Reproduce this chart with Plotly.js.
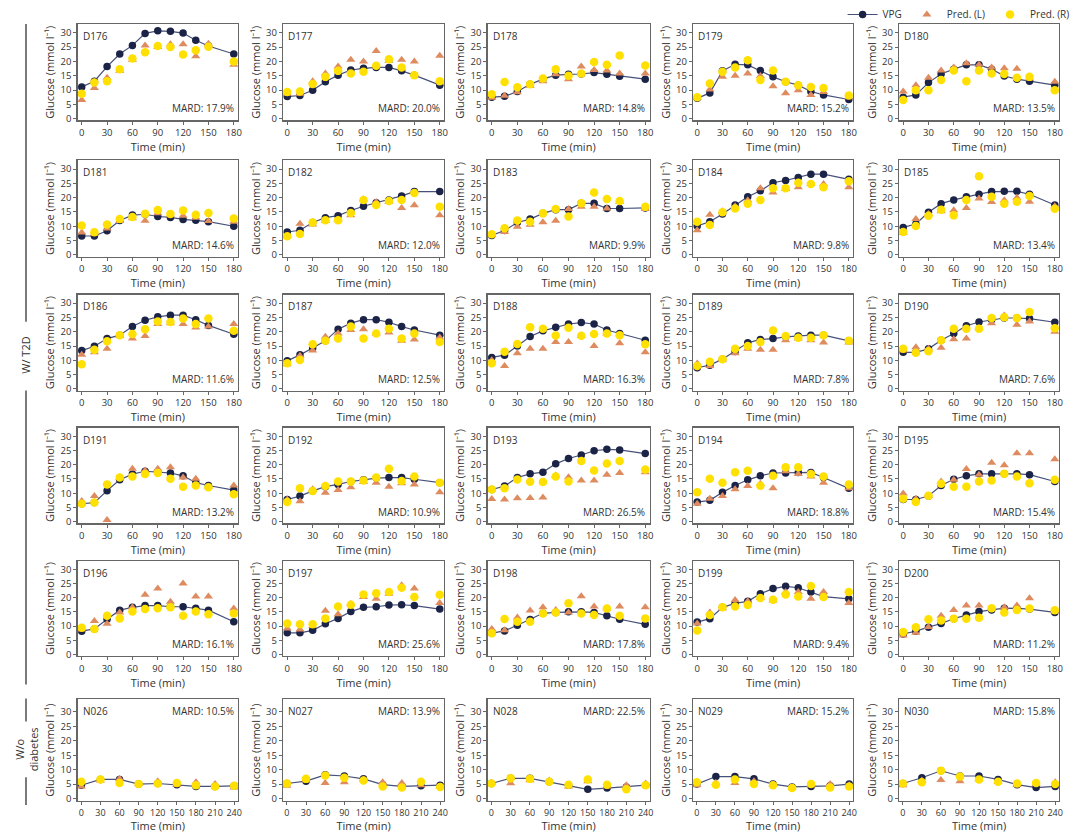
<!DOCTYPE html>
<html><head><meta charset="utf-8">
<script src="https://cdn.plot.ly/plotly-3.0.1.min.js"></script>
<style>html,body{margin:0;padding:0;background:#fff}#chart{width:1080px;height:833px}</style>
</head><body><div id="chart"></div>
<script>
// ---------- data ----------
const T2D_TIME = [0,15,30,45,60,75,90,105,120,135,150,180];
const NODM_TIME = [0,30,60,90,120,150,180,210,240];

const D176_VPG = [11.1,13.1,18.2,22.6,25.6,29.8,30.7,30.5,29.9,27.4,25.4,22.6];
const D176_L   = [6.5,10.7,14.3,16.7,20.6,25.6,25.0,26.0,26.0,21.8,26.2,18.8];
const D176_R   = [8.7,12.6,13.1,17.3,21.0,23.2,25.4,25.0,22.4,23.9,25.1,20.0];

const D177_VPG = [7.7,8.1,9.9,12.9,15.2,17.0,17.6,17.9,17.9,16.7,15.2,11.7];
const D177_L   = [8.7,8.7,13.1,15.8,18.2,20.6,20.0,23.6,20.2,20.6,20.0,22.0];
const D177_R   = [9.3,9.5,12.1,14.6,16.7,15.8,16.4,18.5,20.8,17.9,15.2,13.1];

const D178_VPG = [7.5,7.8,9.5,12.0,13.8,15.2,15.5,15.6,16.1,15.5,14.8,13.8];
const D178_L   = [7.3,8.0,9.2,11.5,13.1,15.5,13.8,18.2,17.0,16.8,15.8,15.8];
const D178_R   = [8.5,12.8,11.0,12.0,14.0,17.3,15.0,15.8,19.8,18.8,22.1,18.6];

const D179_VPG = [7.1,9.0,16.7,19.0,18.8,16.8,14.6,12.9,11.7,9.5,8.3,6.7];
const D179_L   = [7.3,10.2,14.6,15.0,15.8,14.9,11.3,8.9,9.9,8.3,9.3,7.5];
const D179_R   = [7.5,12.3,16.4,17.9,20.4,13.5,16.8,12.9,11.7,11.1,10.7,8.1];

const D180_VPG = [7.5,8.3,12.6,15.6,17.3,18.8,18.8,17.3,14.9,13.8,13.1,11.7];
const D180_L   = [9.5,11.7,14.3,16.8,17.9,19.4,18.8,17.9,17.6,17.4,14.0,12.9];
const D180_R   = [6.5,9.9,9.9,13.5,16.8,13.1,16.8,15.8,15.6,14.3,14.6,9.9];

const D181_VPG = [6.6,6.6,8.4,12.0,13.9,14.2,13.4,13.1,12.4,12.1,11.6,10.0];
const D181_L   = [7.8,7.4,9.2,11.8,12.8,11.9,14.5,13.8,13.7,13.0,11.8,11.6];
const D181_R   = [10.3,7.9,10.6,12.5,13.2,14.4,15.7,14.3,15.5,14.0,14.6,12.7];

const D182_VPG = [8.0,8.6,11.3,13.0,13.7,15.5,17.0,18.2,19.2,20.6,22.1,22.1];
const D182_L   = [6.5,10.9,10.6,11.9,12.4,13.8,19.4,18.5,18.6,16.4,17.3,13.8];
const D182_R   = [6.5,7.3,11.3,12.1,12.1,14.6,19.2,17.4,18.8,19.2,21.6,16.8];

const D183_VPG = [6.8,8.5,11.3,12.5,14.5,15.8,15.8,18.0,18.0,16.2,16.2,16.4];
const D183_L   = [7.0,8.0,9.8,10.5,11.4,11.9,16.0,16.8,16.8,16.2,18.6,16.0];
const D183_R   = [7.2,9.3,12.0,11.6,14.5,16.0,13.4,18.0,21.8,19.5,18.8,16.8];

const D184_VPG = [10.1,11.6,14.3,17.4,20.3,22.4,25.2,26.0,27.0,28.2,28.2,26.4];
const D184_L   = [8.6,14.0,15.2,17.0,19.1,23.3,21.8,23.0,23.6,24.8,24.8,23.6];
const D184_R   = [11.6,10.4,14.9,16.2,17.9,19.2,23.3,23.3,25.2,24.8,23.6,25.7];

const D185_VPG = [9.6,10.8,14.9,17.9,19.2,20.3,21.2,22.1,22.2,22.2,21.2,17.4];
const D185_L   = [7.7,12.5,14.3,15.2,15.6,16.4,19.7,18.5,19.1,20.0,18.6,17.0];
const D185_R   = [8.0,10.1,13.7,15.8,13.8,19.2,27.5,20.3,17.9,18.6,20.6,16.1];

const D186_VPG = [13.4,14.9,17.6,18.8,21.8,24.0,25.2,25.8,25.8,24.2,22.2,19.1];
const D186_L   = [11.9,12.8,14.0,18.5,17.6,18.5,22.7,23.0,22.7,21.5,21.8,22.7];
const D186_R   = [8.6,13.7,16.7,18.8,19.2,20.9,23.6,23.4,24.6,22.7,24.6,20.3];

const D187_VPG = [9.8,11.9,14.3,16.8,20.9,23.0,24.2,24.2,23.3,21.8,20.6,18.8];
const D187_L   = [8.6,11.6,13.4,18.2,19.4,20.6,20.9,19.4,19.7,16.8,17.3,18.0];
const D187_R   = [9.0,10.1,15.6,16.8,17.6,21.8,17.6,19.4,21.0,17.6,19.4,16.4];

const D188_VPG = [11.0,11.8,15.0,18.3,20.3,21.6,22.7,23.2,22.7,20.6,19.4,17.0];
const D188_L   = [10.0,8.0,12.5,14.0,14.0,16.4,16.4,18.6,15.0,19.4,16.0,12.8];
const D188_R   = [9.0,13.0,15.7,21.6,21.0,18.7,21.4,18.6,19.2,19.4,18.8,15.6];

const D189_VPG = [7.4,8.3,10.4,13.1,16.1,17.3,17.6,18.2,18.5,18.8,18.8,16.8];
const D189_L   = [8.9,8.0,10.2,12.5,14.0,13.7,13.7,17.0,17.6,17.0,16.2,16.2];
const D189_R   = [8.0,9.5,10.4,14.0,15.0,16.4,20.4,18.5,17.9,17.9,18.8,16.8];

const D190_VPG = [12.8,12.8,14.0,17.0,19.4,22.1,23.4,24.2,24.8,24.8,24.6,23.3];
const D190_L   = [13.4,14.6,14.0,14.4,17.4,17.6,21.2,23.0,25.7,22.4,23.6,20.0];
const D190_R   = [14.0,12.6,13.2,17.0,21.0,21.0,21.0,24.8,25.1,24.8,26.9,21.2];

const D191_VPG = [6.3,6.7,10.9,14.7,16.7,17.7,17.4,17.1,16.1,13.7,12.7,11.1];
const D191_L   = [7.3,9.0,0.6,15.3,18.6,18.0,18.6,19.1,15.5,15.1,12.3,12.7];
const D191_R   = [6.3,6.7,13.1,15.5,15.9,16.7,17.1,15.1,12.3,12.7,12.1,9.6];

const D192_VPG = [7.8,9.0,10.8,12.3,13.1,14.1,14.7,15.3,15.5,15.5,14.9,13.7];
const D192_L   = [7.8,7.2,11.4,10.2,11.1,12.1,13.9,13.7,12.3,13.5,13.1,10.3];
const D192_R   = [6.9,11.7,10.8,12.5,14.1,14.1,14.5,15.5,18.6,14.3,15.9,13.7];

const D193_VPG = [11.3,12.5,15.5,16.8,17.4,20.3,22.2,23.4,24.9,25.4,25.2,23.9];
const D193_L   = [8.0,7.8,8.2,8.3,8.5,16.2,15.6,14.5,14.5,16.5,17.1,17.4];
const D193_R   = [11.3,11.7,14.8,14.0,13.9,15.9,14.1,21.3,18.0,20.4,21.3,18.3];

const D194_VPG = [6.9,7.5,10.3,12.7,14.7,16.1,17.1,17.1,17.3,17.3,15.5,11.7];
const D194_L   = [6.3,8.1,9.0,11.4,12.5,13.3,11.7,17.7,16.7,15.9,13.7,11.7];
const D194_R   = [10.3,15.1,13.7,17.4,17.9,12.6,16.1,19.1,19.1,16.7,15.9,13.1];

const D195_VPG = [7.8,7.8,9.0,12.7,14.9,16.1,16.8,16.8,16.8,16.8,16.5,14.1];
const D195_L   = [9.9,8.1,9.0,14.1,14.7,18.5,16.5,20.7,19.8,24.0,24.0,21.9];
const D195_R   = [8.1,6.9,9.1,13.3,12.3,12.3,14.1,14.5,16.8,15.9,13.5,14.7];

const D196_VPG = [8.2,9.0,12.4,15.6,16.6,17.2,17.2,16.8,16.8,16.3,15.6,11.5];
const D196_L   = [8.8,11.8,10.8,14.8,16.6,21.0,23.2,18.6,25.0,20.4,20.4,16.2];
const D196_R   = [9.4,9.0,13.6,12.7,15.1,16.0,16.3,16.6,13.6,15.1,14.2,14.4];

const D197_VPG = [7.6,7.6,8.5,10.8,12.7,15.1,16.6,16.8,17.4,17.5,17.2,16.0];
const D197_L   = [9.1,8.8,10.0,15.4,14.2,17.8,20.2,19.6,21.4,24.4,23.2,18.1];
const D197_R   = [10.9,10.6,10.6,12.7,16.9,17.5,21.1,21.6,22.0,23.5,20.2,21.0];

const D198_VPG = [7.5,8.3,10.3,12.3,14.5,14.8,15.0,15.0,14.8,13.6,12.4,10.6];
const D198_L   = [9.0,8.5,13.0,15.5,16.6,15.7,14.8,20.5,16.9,16.2,16.9,16.6];
const D198_R   = [7.5,12.5,11.5,11.5,14.4,14.8,18.0,14.4,13.9,16.2,13.6,12.7];

const D199_VPG = [11.4,12.6,16.6,18.0,18.7,21.4,23.2,24.0,23.5,22.0,20.4,19.6];
const D199_L   = [10.9,14.8,16.3,19.2,18.7,19.9,19.0,22.0,22.0,19.6,22.0,18.1];
const D199_R   = [8.4,13.9,16.6,16.9,17.4,19.9,19.3,21.1,20.4,24.1,20.2,22.0];

const D200_VPG = [7.2,8.2,9.6,10.9,12.6,13.9,15.1,15.7,16.3,16.2,16.0,14.8];
const D200_L   = [6.7,7.6,9.7,13.6,15.7,17.2,17.2,16.2,16.6,17.2,19.8,15.1];
const D200_R   = [7.9,9.6,12.4,12.0,12.6,12.6,12.9,16.3,14.8,15.7,16.2,15.6];

const N026_VPG = [4.6,6.6,6.6,5.0,5.2,4.8,4.2,4.2,4.4];
const N026_L   = [4.2,6.2,6.8,5.0,6.0,4.8,5.6,5.0,3.8];
const N026_R   = [5.8,6.6,5.4,5.0,5.2,5.4,4.6,4.2,4.4];

const N027_VPG = [5.2,6.0,8.2,7.8,6.8,4.8,4.2,4.4,4.6];
const N027_L   = [4.4,6.2,5.4,5.6,6.6,5.6,5.4,4.6,4.2];
const N027_R   = [5.2,6.8,8.0,7.2,6.2,4.2,3.8,5.8,4.0];

const N028_VPG = [5.2,7.0,7.0,5.8,4.6,3.2,3.6,4.0,4.6];
const N028_L   = [5.5,5.3,6.3,6.2,4.2,6.0,4.2,4.6,5.2];
const N028_R   = [5.2,7.0,6.8,5.8,4.8,6.6,4.8,3.2,4.6];

const N029_VPG = [5.0,7.6,7.6,6.8,5.0,4.0,4.2,4.4,5.0];
const N029_L   = [4.6,5.5,5.4,6.0,4.8,3.8,4.6,5.0,4.6];
const N029_R   = [5.6,4.8,6.6,5.0,4.6,3.6,5.0,3.8,4.2];

const N030_VPG = [5.2,7.2,9.6,7.8,7.8,6.6,4.8,3.8,4.2];
const N030_L   = [4.6,6.2,6.4,6.0,6.6,5.8,4.8,5.0,5.6];
const N030_R   = [5.2,5.6,9.6,7.6,6.6,5.8,5.2,5.4,5.0];

const PANEL_IDS = ["D176","D177","D178","D179","D180","D181","D182","D183","D184","D185",
  "D186","D187","D188","D189","D190","D191","D192","D193","D194","D195",
  "D196","D197","D198","D199","D200","N026","N027","N028","N029","N030"];
const MARD = ["17.9%","20.0%","14.8%","15.2%","13.5%","14.6%","12.0%","9.9%","9.8%","13.4%",
  "11.6%","12.5%","16.3%","7.8%","7.6%","13.2%","10.9%","26.5%","18.8%","15.4%",
  "16.1%","25.6%","17.8%","9.4%","11.2%","10.5%","13.9%","22.5%","15.2%","15.8%"];

const PANELS = [
  [D176_VPG,D176_L,D176_R],[D177_VPG,D177_L,D177_R],[D178_VPG,D178_L,D178_R],[D179_VPG,D179_L,D179_R],[D180_VPG,D180_L,D180_R],
  [D181_VPG,D181_L,D181_R],[D182_VPG,D182_L,D182_R],[D183_VPG,D183_L,D183_R],[D184_VPG,D184_L,D184_R],[D185_VPG,D185_L,D185_R],
  [D186_VPG,D186_L,D186_R],[D187_VPG,D187_L,D187_R],[D188_VPG,D188_L,D188_R],[D189_VPG,D189_L,D189_R],[D190_VPG,D190_L,D190_R],
  [D191_VPG,D191_L,D191_R],[D192_VPG,D192_L,D192_R],[D193_VPG,D193_L,D193_R],[D194_VPG,D194_L,D194_R],[D195_VPG,D195_L,D195_R],
  [D196_VPG,D196_L,D196_R],[D197_VPG,D197_L,D197_R],[D198_VPG,D198_L,D198_R],[D199_VPG,D199_L,D199_R],[D200_VPG,D200_L,D200_R],
  [N026_VPG,N026_L,N026_R],[N027_VPG,N027_L,N027_R],[N028_VPG,N028_L,N028_R],[N029_VPG,N029_L,N029_R],[N030_VPG,N030_L,N030_R]
];

// ---------- layout geometry (pixels) ----------
const W = 1080, H = 833;
const COL_LEFT  = [77.5, 283, 487.5, 693, 899];
const COL_RIGHT = [238, 444, 649.5, 853, 1059];
const ROW_TOP    = [21.3, 158, 292.6, 426.2, 559.8, 699];
const ROW_BOTTOM = [117.8, 254.5, 389, 522.3, 655.5, 800.7];

const NAVY = '#1b2447', LINE = '#46507a', ORANGE = '#de8b5f', YELLOW = '#ffe000';
const FRAME = '#666666', TXT = '#333333';
const FONT = '"Open Sans", "Noto Sans", sans-serif';

const traces = [];
const layout = {
  width: W, height: H,
  margin: {l: 0, r: 0, t: 0, b: 0},
  paper_bgcolor: '#fff', plot_bgcolor: '#fff',
  font: {family: FONT, size: 10, color: TXT},
  showlegend: true,
  legend: {orientation: 'h', x: 0.995, xanchor: 'right', y: 1.004, yanchor: 'top',
           font: {size: 10, color: TXT}, itemwidth: 30, tracegroupgap: 0, bgcolor: 'rgba(0,0,0,0)'},
  annotations: [], shapes: []
};

PANELS.forEach((p, i) => {
  const row = Math.floor(i / 5), col = i % 5, k = i + 1;
  const xs = k === 1 ? 'x' : 'x' + k, ys = k === 1 ? 'y' : 'y' + k;
  const nodm = row === 5;
  const time = nodm ? NODM_TIME : T2D_TIME;
  traces.push({type: 'scatter', mode: 'lines+markers', x: time, y: p[0], xaxis: xs, yaxis: ys,
    name: 'VPG', legendgroup: 'vpg', showlegend: i === 0,
    line: {color: LINE, width: 1.2}, marker: {color: NAVY, size: 7.5}, cliponaxis: false});
  traces.push({type: 'scatter', mode: 'markers', x: time, y: p[1], xaxis: xs, yaxis: ys,
    name: 'Pred. (L)', legendgroup: 'L', showlegend: i === 0,
    marker: {color: ORANGE, size: 8, symbol: 'triangle-up'}, cliponaxis: false});
  traces.push({type: 'scatter', mode: 'markers', x: time, y: p[2], xaxis: xs, yaxis: ys,
    name: 'Pred. (R)', legendgroup: 'R', showlegend: i === 0,
    marker: {color: YELLOW, size: 8.5}, cliponaxis: false});

  const axBase = {showline: true, mirror: true, linecolor: FRAME, linewidth: 1.2,
    ticks: 'outside', ticklen: 3, tickwidth: 1, tickcolor: FRAME, showgrid: false, zeroline: false,
    tickfont: {size: 9.5, color: TXT}, tickangle: 0, fixedrange: true};
  layout['xaxis' + (k === 1 ? '' : k)] = Object.assign({}, axBase, {
    domain: [COL_LEFT[col] / W, COL_RIGHT[col] / W], anchor: ys,
    range: nodm ? [-6, 246] : [-5, 185], tick0: 0, dtick: 30,
    tickfont: {size: nodm ? 9 : 9.5, color: TXT},
    title: {text: 'Time (min)', font: {size: 11, color: TXT}, standoff: 3}});
  layout['yaxis' + (k === 1 ? '' : k)] = Object.assign({}, axBase, {
    domain: [1 - ROW_BOTTOM[row] / H, 1 - ROW_TOP[row] / H], anchor: xs,
    range: nodm ? [-0.8, 34.3] : [-0.6, 33], tick0: 0, dtick: 5,
    title: {text: 'Glucose (mmol l⁻¹)', font: {size: 11, color: TXT}, standoff: 3}});

  layout.annotations.push({text: PANEL_IDS[i], xref: xs + ' domain', yref: ys + ' domain',
    x: 0.02, y: nodm ? 0.975 : 0.97, xanchor: 'left', yanchor: 'top', showarrow: false,
    font: {size: 10, color: TXT}});
  layout.annotations.push({text: 'MARD: ' + MARD[i], xref: xs + ' domain', yref: ys + ' domain',
    x: 0.985, y: nodm ? 0.975 : 0.03, xanchor: 'right', yanchor: nodm ? 'top' : 'bottom', showarrow: false,
    font: {size: 10, color: TXT}});
});

// group labels on the left
layout.annotations.push({text: 'W/ T2D', xref: 'paper', yref: 'paper', x: 26 / W, y: 1 - 354 / H,
  textangle: -90, showarrow: false, font: {size: 11, color: TXT}, xanchor: 'center', yanchor: 'middle',
  bgcolor: '#fff'});
layout.annotations.push({text: 'W/o<br>diabetes', xref: 'paper', yref: 'paper', x: 26 / W, y: 1 - 749 / H,
  textangle: -90, showarrow: false, font: {size: 11, color: TXT}, xanchor: 'center', yanchor: 'middle'});
const vline = (y0, y1) => ({type: 'line', xref: 'paper', yref: 'paper', x0: 26 / W, x1: 26 / W,
  y0: 1 - y0 / H, y1: 1 - y1 / H, line: {color: '#222', width: 1.2}, layer: 'below'});
layout.shapes.push(vline(21, 320), vline(389, 684), vline(698, 721), vline(777, 805));

Plotly.newPlot('chart', traces, layout, {displayModeBar: false, staticPlot: true});
</script></body></html>
